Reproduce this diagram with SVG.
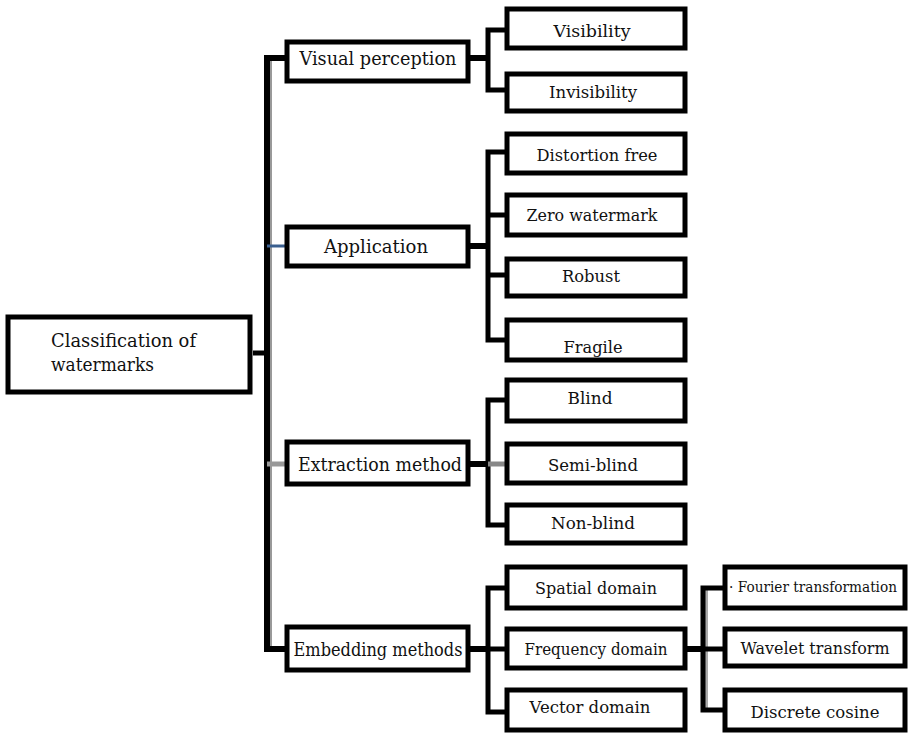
<svg xmlns="http://www.w3.org/2000/svg" width="910" height="734" viewBox="0 0 910 734">
<style>
.box{fill:#fff;stroke:#000;stroke-width:5}
.t{fill:#111;text-anchor:middle}
.t1{font-size:18px}
.t2{font-size:17px}
.t3{font-size:14px}
.c{fill:none;stroke:#000;stroke-width:6;stroke-linejoin:miter}
.s{fill:none;stroke:#000;stroke-width:5}
</style>
<rect width="910" height="734" fill="#fff"/>
<g id="connectors">
  <line x1="253" y1="353" x2="268" y2="353" class="s" stroke="#333"/>
  <line x1="270" y1="60" x2="270" y2="648" stroke="#999" stroke-width="4"/>
  <path class="c" d="M285 58 H267 V649 H285"/>
  <line x1="267" y1="246" x2="285" y2="246" stroke="#3a5f8f" stroke-width="3"/>
  <line x1="267" y1="464" x2="285" y2="464" stroke="#999" stroke-width="5"/>
  <path class="c" d="M470 58 H488"/>
  <path class="s" d="M505 30 H488 V90 H505"/>
  <path class="c" d="M470 246 H488"/>
  <path class="s" d="M505 152 H488 V340 H505 M488 215 H505 M488 275 H505"/>
  <path class="c" d="M470 464 H488"/>
  <path class="s" d="M505 400 H488 V525 H505"/>
  <line x1="488" y1="464" x2="505" y2="464" stroke="#888" stroke-width="5"/>
  <path class="c" d="M470 649 H488"/>
  <path class="s" d="M505 588 H488 V712 H505 M488 649 H505"/>
  <line x1="706" y1="590" x2="706" y2="708" stroke="#aaa" stroke-width="4"/>
  <path class="c" d="M687 649 H703"/>
  <path class="s" d="M723 588 H703 V710 H723 M703 649 H723"/>
</g>
<g font-family="'DejaVu Serif', 'Liberation Serif', serif">
<g id="root">
  <rect class="box" x="8" y="317" width="242" height="75" stroke-width="6"/>
  <text class="t t1" x="51" y="347" style="text-anchor:start" textLength="145" lengthAdjust="spacingAndGlyphs">Classification of</text>
  <text class="t t1" x="51" y="371" style="text-anchor:start" textLength="103" lengthAdjust="spacingAndGlyphs">watermarks</text>
</g>
<g id="visual-perception">
  <rect class="box" x="287" y="42" width="181" height="39" stroke-width="4"/>
  <text class="t t1" x="378" y="65" textLength="157" lengthAdjust="spacingAndGlyphs">Visual perception</text>
</g>
<g id="application">
  <rect class="box" x="287" y="227" width="181" height="39" stroke-width="4"/>
  <text class="t t1" x="376" y="253" textLength="104" lengthAdjust="spacingAndGlyphs">Application</text>
</g>
<g id="extraction-method">
  <rect class="box" x="287" y="442" width="181" height="42" stroke-width="4"/>
  <text class="t t1" x="380" y="471" textLength="164" lengthAdjust="spacingAndGlyphs">Extraction method</text>
</g>
<g id="embedding-methods">
  <rect class="box" x="287" y="627" width="181" height="43" stroke-width="4"/>
  <text class="t t1" x="378" y="656" textLength="169" lengthAdjust="spacingAndGlyphs">Embedding methods</text>
</g>
<g id="visibility">
  <rect class="box" x="507" y="9" width="178" height="39"/>
  <text class="t t2" x="592" y="37" textLength="77" lengthAdjust="spacingAndGlyphs">Visibility</text>
</g>
<g id="invisibility">
  <rect class="box" x="507" y="74" width="178" height="37"/>
  <text class="t t2" x="593" y="98" textLength="88" lengthAdjust="spacingAndGlyphs">Invisibility</text>
</g>
<g id="distortion-free">
  <rect class="box" x="507" y="134" width="178" height="39"/>
  <text class="t t2" x="597" y="161" textLength="121" lengthAdjust="spacingAndGlyphs">Distortion free</text>
</g>
<g id="zero-watermark">
  <rect class="box" x="507" y="195" width="178" height="40"/>
  <text class="t t2" x="592" y="221" textLength="131" lengthAdjust="spacingAndGlyphs">Zero watermark</text>
</g>
<g id="robust">
  <rect class="box" x="507" y="259" width="178" height="37"/>
  <text class="t t2" x="591" y="282" textLength="58" lengthAdjust="spacingAndGlyphs">Robust</text>
</g>
<g id="fragile">
  <rect class="box" x="507" y="320" width="178" height="40"/>
  <text class="t t2" x="593" y="353" textLength="59" lengthAdjust="spacingAndGlyphs">Fragile</text>
</g>
<g id="blind">
  <rect class="box" x="507" y="380" width="178" height="41"/>
  <text class="t t2" x="590" y="404" textLength="45" lengthAdjust="spacingAndGlyphs">Blind</text>
</g>
<g id="semi-blind">
  <rect class="box" x="507" y="444" width="178" height="39"/>
  <text class="t t2" x="593" y="471" textLength="90" lengthAdjust="spacingAndGlyphs">Semi-blind</text>
</g>
<g id="non-blind">
  <rect class="box" x="507" y="505" width="178" height="38"/>
  <text class="t t2" x="593" y="529" textLength="84" lengthAdjust="spacingAndGlyphs">Non-blind</text>
</g>
<g id="spatial-domain">
  <rect class="box" x="507" y="567" width="178" height="41"/>
  <text class="t t2" x="596" y="594" textLength="122" lengthAdjust="spacingAndGlyphs">Spatial domain</text>
</g>
<g id="frequency-domain">
  <rect class="box" x="507" y="629" width="178" height="39"/>
  <text class="t t2" x="596" y="655" textLength="143" lengthAdjust="spacingAndGlyphs">Frequency domain</text>
</g>
<g id="vector-domain">
  <rect class="box" x="507" y="690" width="178" height="40"/>
  <text class="t t2" x="590" y="713" textLength="121" lengthAdjust="spacingAndGlyphs">Vector domain</text>
</g>
<g id="fourier-transformation">
  <rect class="box" x="725" y="567" width="180" height="41"/>
  <text class="t t3" x="813" y="592" textLength="168" lengthAdjust="spacingAndGlyphs">· Fourier transformation</text>
</g>
<g id="wavelet-transform">
  <rect class="box" x="725" y="629" width="180" height="37"/>
  <text class="t" font-size="16" x="815" y="654" textLength="149" lengthAdjust="spacingAndGlyphs">Wavelet transform</text>
</g>
<g id="discrete-cosine">
  <rect class="box" x="725" y="690" width="180" height="40"/>
  <text class="t t2" x="815" y="718" textLength="129" lengthAdjust="spacingAndGlyphs">Discrete cosine</text>
</g>
</g>
</svg>
